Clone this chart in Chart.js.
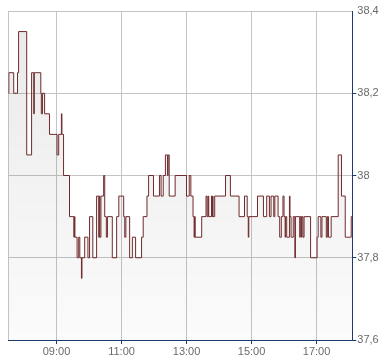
<!DOCTYPE html>
<html><head><meta charset="utf-8">
<script src="https://cdn.jsdelivr.net/npm/chart.js@4.4.1/dist/chart.umd.min.js"></script>
<style>html,body{margin:0;padding:0;background:#fff;}#wrap{width:390px;height:364px;}</style>
</head><body><div id="wrap"><canvas id="c" width="390" height="364"></canvas></div>
<script>
const times = ['07:31','07:32','07:41','07:48','07:50','08:05','08:14','08:18','08:19','08:31','08:32','08:34','08:38','08:47',
'09:01','09:04','09:09','09:10','09:13','09:24','09:32','09:33','09:34','09:38','09:41','09:43','09:46','09:47','09:52','09:58',
'10:01','10:07','10:14','10:18','10:19','10:20','10:22','10:27','10:29','10:32','10:34','10:43','10:51','10:55',
'11:04','11:06','11:08','11:15','11:20','11:26','11:37','11:40','11:47','11:50','11:59',
'12:10','12:13','12:17','12:21','12:25','12:26','12:28','12:39',
'13:00','13:05','13:08','13:12','13:14','13:15','13:16','13:28','13:36','13:38','13:40','13:41','13:46','13:47','13:48','13:49','13:52',
'14:12','14:21','14:37','14:47','14:52','14:54','14:55',
'15:11','15:22','15:28','15:33','15:36','15:41','15:43','15:49','15:52','15:55','15:58',
'16:00','16:02','16:03','16:05','16:10','16:11','16:13','16:17','16:20','16:21','16:29','16:30','16:32','16:33','16:35','16:37','16:49',
'17:01','17:03','17:08','17:10','17:18','17:20','17:22','17:27','17:40','17:46','17:53','18:04','18:06'];
const prices = [38.2,38.25,38.2,38.25,38.35,38.05,38.25,38.15,38.25,38.2,38.15,38.2,38.15,38.1,
38.05,38.1,38.15,38.1,38.0,37.9,37.85,37.9,37.85,37.8,37.85,37.8,37.75,37.8,37.85,37.8,
37.9,37.8,37.95,37.85,37.95,37.85,37.95,38.0,37.9,37.85,37.9,37.8,37.9,37.95,
37.9,37.85,37.9,37.8,37.85,37.8,37.85,37.9,37.95,38.0,37.95,
38.0,37.95,38.0,38.05,38.0,38.05,37.95,38.0,
37.95,38.0,37.95,37.9,37.85,37.9,37.85,37.9,37.95,37.9,37.95,37.9,37.95,37.9,37.95,37.9,37.95,
38.0,37.95,37.9,37.95,37.9,37.85,37.9,
37.95,37.9,37.95,37.9,37.95,37.9,37.95,37.9,37.85,37.9,37.95,
37.9,37.85,37.9,37.85,37.95,37.9,37.85,37.9,37.8,37.9,37.85,37.9,37.85,37.9,37.85,37.9,37.8,
37.85,37.9,37.85,37.9,37.85,37.9,37.85,37.9,38.05,37.95,37.85,37.9,37.9];
const xTickLabels = ['09:00','11:00','13:00','15:00','17:00'];
const yTickValues = [37.6,37.8,38,38.2,38.4];
const xStart = '07:31', xEnd = '18:06';
const yMin = 37.6, yMax = 38.4;

const toMin = s => { const [h,m] = s.split(':').map(Number); return h*60+m; };
const fmtTime = v => { const h = Math.floor(v/60), m = Math.round(v%60); return String(h).padStart(2,'0')+':'+String(m).padStart(2,'0'); };
const fmtNum = v => String(Number(v.toFixed(2))).replace('.', ',');

const NAVY = '#1b3b6f', GRID = '#c4c4c4', LABEL = '#6a6a6a';
Chart.defaults.font.family = '"Liberation Sans", Arial, sans-serif';
Chart.defaults.font.size = 11;

const data = times.map((t,i) => ({x: toMin(t), y: prices[i]}));

new Chart(document.getElementById('c'), {
  type: 'line',
  data: { datasets: [{
    data,
    stepped: true,
    borderColor: '#6e2a2c',
    borderWidth: 1,
    pointRadius: 0,
    fill: 'start',
    backgroundColor: (ctx) => {
      const area = ctx.chart.chartArea;
      if (!area) return 'rgba(0,0,0,0.05)';
      const g = ctx.chart.ctx.createLinearGradient(0, area.top, 0, area.bottom);
      g.addColorStop(0, 'rgba(0,0,0,0.085)');
      g.addColorStop(1, 'rgba(0,0,0,0.015)');
      return g;
    }
  }]},
  options: {
    responsive: false,
    animation: false,
    devicePixelRatio: 1,
    layout: { padding: { left: 8.3, top: 11, right: 10.3, bottom: 4.8 } },
    plugins: { legend: { display: false }, tooltip: { enabled: false } },
    scales: {
      x: {
        type: 'linear',
        min: toMin(xStart), max: toMin(xEnd),
        afterBuildTicks: (s) => { s.ticks = [toMin(xStart), ...xTickLabels.map(toMin)].map(v => ({value: v})); },
        ticks: {
          autoSkip: false, maxRotation: 0, color: LABEL, padding: 1,
          callback: (v, i) => i === 0 ? '' : fmtTime(v)
        },
        grid: {
          color: GRID, lineWidth: 1, tickLength: 4,
          tickColor: (c) => c.index === 0 ? 'rgba(0,0,0,0)' : NAVY
        },
        border: { color: NAVY, width: 1 }
      },
      y: {
        position: 'right',
        min: yMin, max: yMax,
        afterBuildTicks: (s) => { s.ticks = yTickValues.map(v => ({value: v})); },
        ticks: { color: LABEL, padding: 1, callback: (v) => fmtNum(v) },
        grid: {
          color: (c) => c.index === 0 ? 'rgba(0,0,0,0)' : GRID,
          lineWidth: 1, tickLength: 4,
          tickColor: (c) => c.index === yTickValues.length - 1 ? 'rgba(0,0,0,0)' : NAVY
        },
        border: { color: NAVY, width: 1 }
      }
    }
  }
});
</script>
</body></html>
